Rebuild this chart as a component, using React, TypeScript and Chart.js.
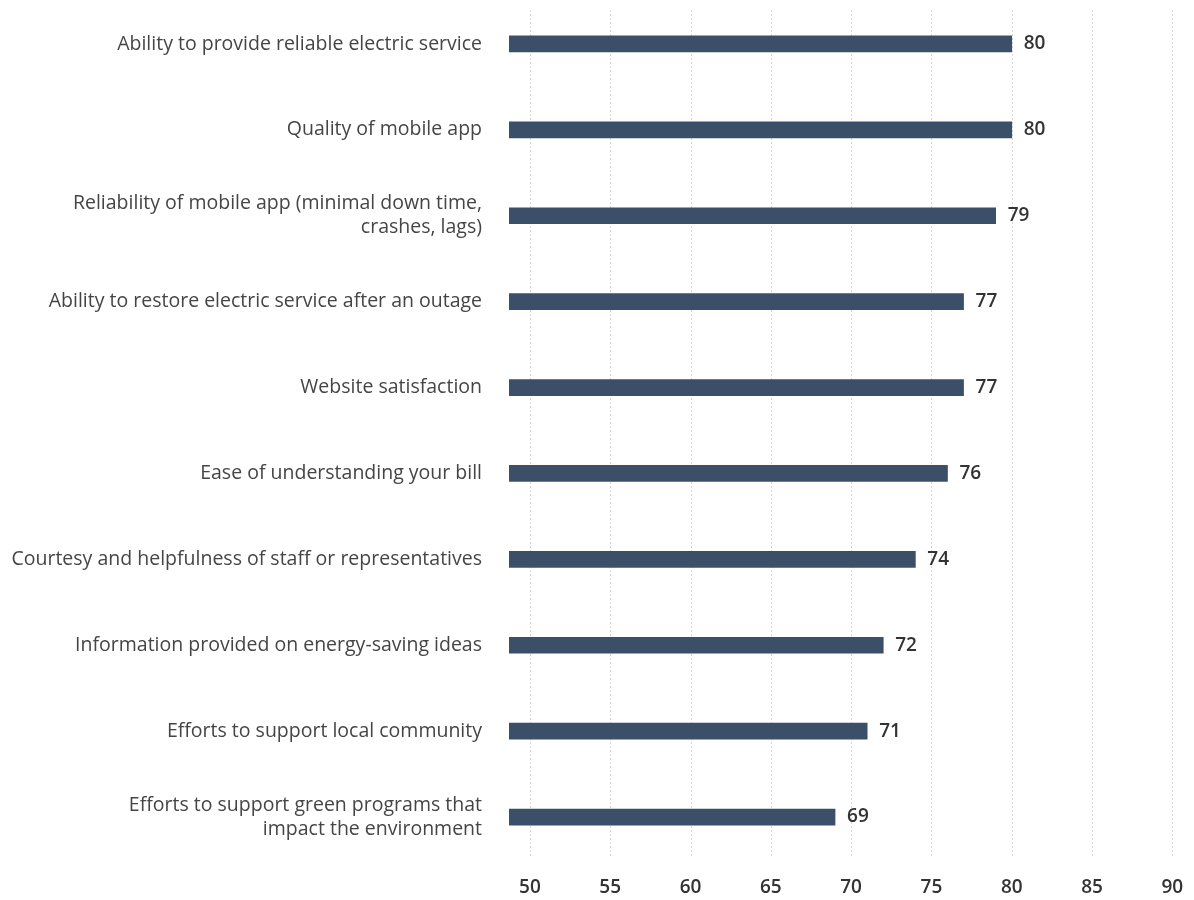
import React, { useEffect, useRef } from "react";
import { Chart, registerables } from "chart.js";

Chart.register(...registerables);

const categories: (string | string[])[] = [
  "Ability to provide reliable electric service",
  "Quality of mobile app",
  ["Reliability of mobile app (minimal down time,", "crashes, lags)"],
  "Ability to restore electric service after an outage",
  "Website satisfaction",
  "Ease of understanding your bill",
  "Courtesy and helpfulness of staff or representatives",
  "Information provided on energy-saving ideas",
  "Efforts to support local community",
  ["Efforts to support green programs that", "impact the environment"],
];

const scores = [80, 80, 79, 77, 77, 76, 74, 72, 71, 69];

const xTicks = [50, 55, 60, 65, 70, 75, 80, 85, 90];

const BAR_COLOR = "#3b5068";
const FONT = "'Open Sans', Roboto, sans-serif";

const gridPlugin = {
  id: "dottedGrid",
  beforeDatasetsDraw(chart: any) {
    const { ctx, chartArea, scales } = chart;
    const x = scales.x;
    ctx.save();
    ctx.strokeStyle = "#d6d6d6";
    ctx.lineWidth = 1;
    ctx.setLineDash([2, 2]);
    xTicks.forEach((v) => {
      const px = Math.round(x.getPixelForValue(v)) + 0.5;
      ctx.beginPath();
      ctx.moveTo(px, chartArea.top + 9);
      ctx.lineTo(px, chartArea.bottom - 3);
      ctx.stroke();
    });
    ctx.restore();
  },
};

const valueLabelPlugin = {
  id: "valueLabels",
  afterDatasetsDraw(chart: any) {
    const { ctx } = chart;
    const meta = chart.getDatasetMeta(0);
    ctx.save();
    ctx.fillStyle = "#333333";
    ctx.font = `600 19px ${FONT}`;
    ctx.textAlign = "left";
    ctx.textBaseline = "middle";
    meta.data.forEach((bar: any, i: number) => {
      ctx.fillText(String(scores[i]), bar.x + 12, bar.y);
    });
    ctx.restore();
  },
};

export default function App() {
  const canvasRef = useRef<HTMLCanvasElement | null>(null);

  useEffect(() => {
    if (!canvasRef.current) return;
    const chart = new Chart(canvasRef.current, {
      type: "bar",
      data: {
        labels: categories,
        datasets: [
          {
            data: scores,
            backgroundColor: BAR_COLOR,
            barThickness: 16,
            borderWidth: 0,
          },
        ],
      },
      options: {
        indexAxis: "y",
        animation: false,
        responsive: true,
        maintainAspectRatio: false,
        layout: { padding: { top: 1, right: 12, left: 0, bottom: 0 } },
        plugins: {
          legend: { display: false },
          tooltip: { enabled: false },
        },
        scales: {
          x: {
            type: "linear",
            min: 48.7,
            max: 90.6,
            afterBuildTicks: (scale: any) => {
              scale.ticks = xTicks.map((v) => ({ value: v }));
            },
            afterFit: (scale: any) => {
              scale.height = 40;
              scale.paddingLeft = 0;
              scale.paddingRight = 0;
            },
            grid: { display: false, drawTicks: false },
            border: { display: false },
            ticks: {
              color: "#333333",
              font: { family: FONT, size: 19, weight: "600" },
              padding: 16,
              autoSkip: false,
              maxRotation: 0,
            },
          },
          y: {
            type: "category",
            afterFit: (scale: any) => {
              scale.width = 509;
              scale.paddingTop = 0;
              scale.paddingBottom = 0;
            },
            grid: { display: false, drawTicks: false },
            border: { display: false },
            ticks: {
              color: "#454545",
              font: { family: FONT, size: 19.5, weight: "normal", lineHeight: 1.22 },
              padding: 27,
              autoSkip: false,
            },
          },
        },
      },
      plugins: [gridPlugin, valueLabelPlugin],
    });
    return () => chart.destroy();
  }, []);

  return (
    <div
      style={{
        position: "absolute",
        left: 0,
        top: 0,
        width: 1194,
        height: 900,
        background: "#ffffff",
      }}
    >
      <canvas ref={canvasRef} />
    </div>
  );
}
